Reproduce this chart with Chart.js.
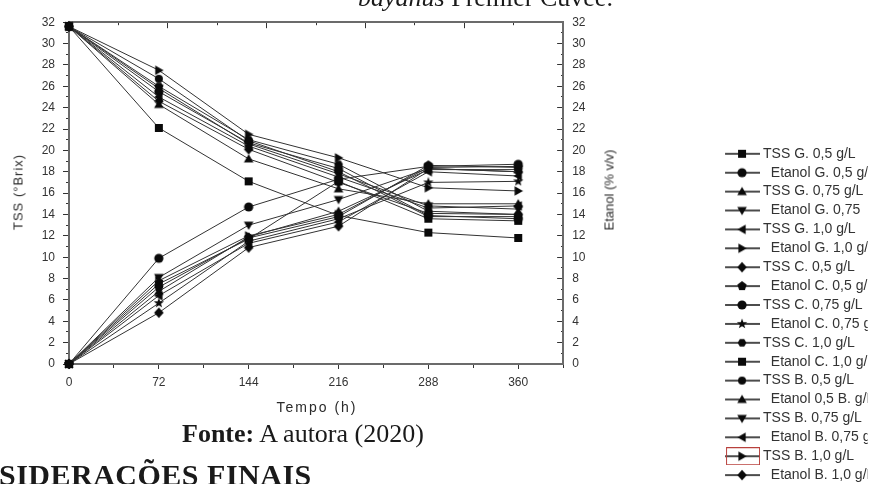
<!DOCTYPE html>
<html>
<head>
<meta charset="utf-8">
<script src="https://cdn.jsdelivr.net/npm/chart.js@4"></script>
<style>
	body { margin: 0; width: 879px; height: 484px; overflow: hidden; background: #fff; position: relative; }
	#wrap { position: absolute; left: 0; top: 0; width: 960px; height: 500px; }
	.txt { position: absolute; white-space: nowrap; color: #1a1a1a; }
	.serif { font-family: 'Liberation Serif', 'Times New Roman', serif; }
	.sans { font-family: 'Liberation Sans', Arial, sans-serif; color: #2a2a2a; }
	.vert { transform: translate(-50%, -50%) rotate(-90deg); }
	.mid { transform: translate(-50%, -50%); }
</style>
</head>
<body>
<div id="wrap"><canvas id="chart" width="960" height="500"></canvas></div>

<div class="txt serif" style="left:358px; top:-15px; font-size:26px; line-height:26px;"><i>bayanus</i> Premier Cuvée.</div>
<div class="txt sans vert" style="left:18px; top:192px; font-size:13px; letter-spacing:1px;">TSS (°Brix)</div>
<div class="txt sans vert" style="left:609px; top:190px; font-size:13px;">Etanol (% v/v)</div>
<div class="txt sans mid" style="left:317px; top:407px; font-size:14px; letter-spacing:2px;">Tempo (h)</div>
<div class="txt serif" style="left:182px; top:421px; font-size:26px; line-height:26px;"><b>Fonte:</b> A autora (2020)</div>
<div class="txt serif" style="left:-1px; top:460px; font-size:30px; line-height:30px; font-weight:bold; letter-spacing:0.5px;">SIDERAÇÕES FINAIS</div>

<script>
// Data (time in hours)
const hours = [0, 72, 144, 216, 288, 360];
const xTickLabels = [0, 72, 144, 216, 288, 360];
const yTickLabels = [0, 2, 4, 6, 8, 10, 12, 14, 16, 18, 20, 22, 24, 26, 28, 30, 32];

const tssG05 = [31.6, 22.1, 17.1, 13.9, 12.3, 11.8];
const etanolG05 = [0, 9.9, 14.7, 17.3, 18.5, 18.7];
const tssG075 = [31.6, 24.3, 19.2, 16.4, 15.0, 15.0];
const etanolG075 = [0, 8.1, 13.0, 15.4, 18.3, 18.0];
const tssG10 = [31.6, 25.0, 20.4, 17.5, 14.6, 14.8];
const etanolG10 = [0, 7.8, 12.0, 14.0, 18.4, 18.5];
const tssC05 = [31.6, 24.6, 20.1, 17.0, 14.1, 14.0];
const etanolC05 = [0, 7.2, 11.8, 13.8, 18.6, 18.4];
const tssC075 = [31.6, 25.5, 20.7, 18.3, 13.9, 13.6];
const etanolC075 = [0, 5.7, 11.5, 13.6, 17.0, 17.1];
const tssC10 = [31.6, 26.0, 21.0, 18.7, 14.3, 14.0];
const etanolC10 = [0, 7.5, 11.7, 17.1, 13.6, 13.4];
const tssB05 = [31.6, 26.7, 20.9, 18.0, 13.8, 13.8];
const etanolB05 = [0, 6.8, 11.9, 14.3, 18.2, 18.2];
const tssB075 = [31.6, 25.8, 20.6, 17.8, 14.8, 14.5];
const etanolB075 = [0, 6.4, 11.3, 13.3, 18.0, 17.6];
const tssB10 = [31.6, 27.5, 21.5, 19.3, 16.5, 16.2];
const etanolB10 = [0, 4.8, 10.9, 12.9, 18.3, 18.0];

const seriesLabels = [
	'TSS G. 0,5 g/L', 'Etanol G. 0,5 g/L',
	'TSS G. 0,75 g/L', 'Etanol G. 0,75',
	'TSS G. 1,0 g/L', 'Etanol G. 1,0 g/L',
	'TSS C. 0,5 g/L', 'Etanol C. 0,5 g/L',
	'TSS C. 0,75 g/L', 'Etanol C. 0,75 g/L',
	'TSS C. 1,0 g/L', 'Etanol C. 1,0 g/L',
	'TSS B. 0,5 g/L', 'Etanol 0,5 B. g/L',
	'TSS B. 0,75 g/L', 'Etanol B. 0,75 g/L',
	'TSS B. 1,0 g/L', 'Etanol B. 1,0 g/L',
];
const seriesValues = [
	tssG05, etanolG05, tssG075, etanolG075, tssG10, etanolG10,
	tssC05, etanolC05, tssC075, etanolC075, tssC10, etanolC10,
	tssB05, etanolB05, tssB075, etanolB075, tssB10, etanolB10,
];

// marker shape per series (same order as the legend)
const seriesMarkers = [
	'square', 'circle', 'up', 'down', 'left', 'right',
	'diamond', 'pentagon', 'circle', 'star', 'hexagon', 'square',
	'smallCircle', 'up', 'down', 'left', 'right', 'diamond',
];
const boxedLegendItem = 16; // the selected item in the original has a red box

function polygon(g, cx, cy, pts) {
	pts.forEach(([x, y], i) => (i ? g.lineTo(cx + x, cy + y) : g.moveTo(cx + x, cy + y)));
	g.closePath();
}

function regular(n, r, start) {
	const pts = [];
	for (let i = 0; i < n; i++) {
		const a = start + (i * 2 * Math.PI) / n;
		pts.push([r * Math.cos(a), r * Math.sin(a)]);
	}
	return pts;
}

function drawMarker(g, shape, cx, cy) {
	const r = 4.8;
	g.beginPath();
	if (shape === 'square') g.rect(cx - 4, cy - 4, 8, 8);
	else if (shape === 'circle') g.arc(cx, cy, 4.6, 0, Math.PI * 2);
	else if (shape === 'smallCircle') g.arc(cx, cy, 4, 0, Math.PI * 2);
	else if (shape === 'up') polygon(g, cx, cy, [[0, -r], [r, r * 0.75], [-r, r * 0.75]]);
	else if (shape === 'down') polygon(g, cx, cy, [[0, r], [r, -r * 0.75], [-r, -r * 0.75]]);
	else if (shape === 'right') polygon(g, cx, cy, [[r, 0], [-r * 0.75, -r], [-r * 0.75, r]]);
	else if (shape === 'left') polygon(g, cx, cy, [[-r, 0], [r * 0.75, -r], [r * 0.75, r]]);
	else if (shape === 'diamond') polygon(g, cx, cy, [[0, -r * 1.1], [r, 0], [0, r * 1.1], [-r, 0]]);
	else if (shape === 'pentagon') polygon(g, cx, cy, regular(5, 4.9, -Math.PI / 2));
	else if (shape === 'hexagon') polygon(g, cx, cy, regular(6, 4.4, 0));
	else if (shape === 'star') {
		const pts = [];
		for (let i = 0; i < 10; i++) {
			const a = -Math.PI / 2 + (i * Math.PI) / 5;
			const rr = i % 2 ? 2.2 : 5.4;
			pts.push([rr * Math.cos(a), rr * Math.sin(a)]);
		}
		polygon(g, cx, cy, pts);
	}
	g.fill();
}

function pointIcon(shape) {
	const c = document.createElement('canvas');
	c.width = 12;
	c.height = 12;
	const g = c.getContext('2d');
	g.fillStyle = '#0a0a0a';
	drawMarker(g, shape, 6, 6);
	return c;
}

function legendIcon(shape, boxed) {
	const c = document.createElement('canvas');
	c.width = 36;
	c.height = 18;
	const g = c.getContext('2d');
	g.strokeStyle = '#111';
	g.lineWidth = 1.3;
	g.beginPath();
	g.moveTo(1, 9);
	g.lineTo(36, 9);
	g.stroke();
	g.fillStyle = '#0a0a0a';
	drawMarker(g, shape, 18, 9);
	if (boxed) {
		g.strokeStyle = '#b8403c';
		g.lineWidth = 1;
		g.strokeRect(2.5, 0.5, 33, 17);
	}
	return c;
}

const pointIcons = seriesMarkers.map(pointIcon);
const legendIcons = seriesMarkers.map((m, i) => legendIcon(m, i === boxedLegendItem));

const datasets = seriesLabels.map((label, i) => ({
	label: label,
	data: hours.map((h, j) => ({ x: h, y: seriesValues[i][j] })),
	xAxisID: 'x',
	yAxisID: label.startsWith('TSS') ? 'y' : 'y2',
	borderColor: '#333',
	borderWidth: 1,
	pointStyle: pointIcons[i],
	pointRadius: 4,
	tension: 0,
	fill: false,
	clip: false,
}));

// short (minor) tick: draw only 3px of the tick, next to the axis line
const minorDash = (minor) => (minor ? [3, 20] : []);

Chart.defaults.font.family = "'Liberation Sans', Arial, sans-serif";
Chart.defaults.font.size = 12;
Chart.defaults.color = '#333';

const ctx = document.getElementById('chart').getContext('2d');
const chart = new Chart(ctx, {
	type: 'line',
	data: { datasets: datasets },
	options: {
		responsive: false,
		animation: false,
		events: [],
		layout: { padding: { top: 20, right: 60, bottom: 13, left: 0 } },
		scales: {
			x: {
				type: 'linear',
				position: 'bottom',
				min: 0,
				max: 396,
				afterFit: (s) => { s.height = 123; },
				border: { display: true, color: '#6b6b6b', width: 2 },
				grid: {
					drawOnChartArea: false,
					tickLength: 5,
					color: '#333',
					tickBorderDash: (c) => minorDash(c.tick && c.tick.value % 72 !== 0),
				},
				ticks: {
					stepSize: 36,
					autoSkip: false,
					source: 'data',
					maxRotation: 0,
					padding: 6,
					callback: (v) => (xTickLabels.includes(v) ? String(v) : ''),
				},
			},
			x2: {
				type: 'linear',
				position: 'top',
				min: 0,
				max: 10,
				afterFit: (s) => { s.height = 0; },
				border: { display: true, color: '#6b6b6b', width: 2 },
				grid: {
					drawOnChartArea: false,
					tickLength: -6,
					color: '#333',
					tickBorderDash: (c) => minorDash(c.index % 2 === 1),
					tickBorderDashOffset: (c) => (c.index % 2 === 1 ? 20 : 0),
				},
				ticks: { stepSize: 1, display: false },
			},
			y: {
				type: 'linear',
				position: 'left',
				min: 0,
				max: 32,
				afterFit: (s) => { s.width = 69; },
				border: { display: true, color: '#6b6b6b', width: 2 },
				grid: {
					drawOnChartArea: false,
					tickLength: 6,
					color: '#333',
					tickBorderDash: (c) => minorDash(c.tick && c.tick.value % 2 !== 0),
					tickBorderDashOffset: (c) => (c.tick && c.tick.value % 2 !== 0 ? 20 : 0),
				},
				ticks: {
					stepSize: 1,
					autoSkip: false,
					source: 'data',
					padding: 8,
					callback: (v) => (yTickLabels.includes(v) ? String(v) : ''),
				},
			},
			y2: {
				type: 'linear',
				position: 'right',
				min: 0,
				max: 32,
				afterFit: (s) => { s.width = 160; },
				border: { display: true, color: '#6b6b6b', width: 2 },
				grid: {
					drawOnChartArea: false,
					tickLength: -6,
					color: '#333',
					tickBorderDash: (c) => minorDash(c.tick && c.tick.value % 2 !== 0),
				},
				ticks: {
					stepSize: 1,
					autoSkip: false,
					source: 'data',
					padding: 15,
					callback: (v) => (yTickLabels.includes(v) ? String(v) : ''),
				},
			},
		},
		plugins: {
			tooltip: { enabled: false },
			legend: {
				position: 'right',
				align: 'end',
				labels: {
					usePointStyle: true,
					pointStyleWidth: 28,
					padding: 4.9,
					color: '#333',
					font: { size: 14 },
					generateLabels: (c) =>
						c.data.datasets.map((ds, i) => ({
							text: ds.label.startsWith('Etanol') ? '  ' + ds.label : ds.label,
							pointStyle: legendIcons[i],
							fillStyle: '#000',
							strokeStyle: '#000',
							lineWidth: 0,
							fontColor: '#333',
							hidden: false,
							datasetIndex: i,
						})),
				},
			},
		},
	},
});

// nudge the layout: legend starts at x = 723, plot top edge at y = 20
for (let k = 0; k < 3; k++) {
	const pad = chart.options.layout.padding;
	pad.right += chart.legend.left - 723;
	pad.top -= chart.chartArea.top - 20;
	chart.update();
}
</script>
</body>
</html>
